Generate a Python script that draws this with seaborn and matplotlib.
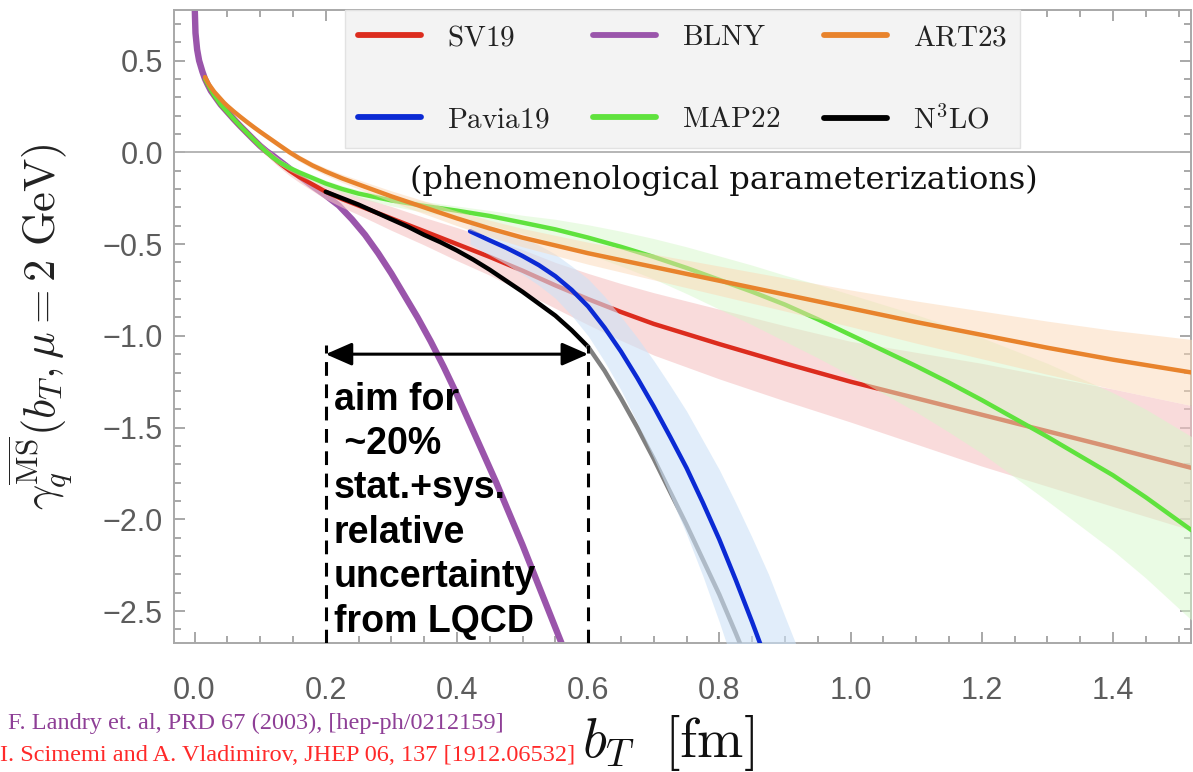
import matplotlib
matplotlib.use("Agg")
import matplotlib.pyplot as plt
from matplotlib.lines import Line2D
from matplotlib.ticker import MultipleLocator, FixedLocator
import seaborn as sns

# ---------------------------------------------------------------
# Collins-Soper kernel gamma_q(b_T, mu = 2 GeV) for several
# phenomenological parameterizations; b_T in fm.
# ---------------------------------------------------------------

# BLNY (no uncertainty band)
blny_b = [0.0004, 0.0015, 0.004, 0.007, 0.012, 0.016, 0.02, 0.025, 0.03, 0.035,
          0.04, 0.05, 0.06, 0.07, 0.08, 0.09, 0.1, 0.11, 0.12, 0.14,
          0.16, 0.18, 0.20, 0.22, 0.24, 0.26, 0.28, 0.30, 0.32, 0.34,
          0.36, 0.38, 0.40, 0.42, 0.44, 0.46, 0.48, 0.50, 0.52, 0.54,
          0.56, 0.58]
blny_g = [0.78, 0.65, 0.56, 0.50, 0.44, 0.40, 0.37, 0.335, 0.31, 0.285,
          0.26, 0.22, 0.18, 0.142, 0.106, 0.07, 0.035, 0.005, -0.02, -0.075,
          -0.13, -0.185, -0.235, -0.29, -0.365, -0.45, -0.55, -0.66, -0.78, -0.90,
          -1.03, -1.17, -1.32, -1.48, -1.64, -1.80, -1.97, -2.14, -2.32, -2.50,
          -2.68, -2.87]

# SV19
sv19_b = [0.016, 0.019, 0.022, 0.026, 0.03, 0.035, 0.04, 0.045, 0.05, 0.06,
          0.07, 0.08, 0.09, 0.1, 0.108, 0.12, 0.13, 0.145, 0.16, 0.18,
          0.2, 0.225, 0.25, 0.3, 0.35, 0.4, 0.45, 0.5, 0.55, 0.6,
          0.65, 0.7, 0.75, 0.8, 0.9, 1.0, 1.1, 1.2, 1.3, 1.4, 1.52]
sv19_g = [0.40, 0.38, 0.36, 0.335, 0.31, 0.285, 0.26, 0.24, 0.22, 0.18,
          0.142, 0.106, 0.07, 0.035, 0.007, -0.03, -0.06, -0.10, -0.135, -0.175,
          -0.215, -0.255, -0.29, -0.36, -0.43, -0.50, -0.57, -0.645, -0.725, -0.80,
          -0.87, -0.935, -0.99, -1.045, -1.15, -1.25, -1.34, -1.43, -1.52, -1.61, -1.72]
sv19_err = [0.01, 0.01, 0.01, 0.01, 0.01, 0.011, 0.011, 0.012, 0.012, 0.013,
            0.014, 0.015, 0.016, 0.018, 0.02, 0.022, 0.024, 0.027, 0.03, 0.035,
            0.04, 0.045, 0.05, 0.065, 0.075, 0.09, 0.10, 0.115, 0.125, 0.14,
            0.155, 0.17, 0.18, 0.19, 0.205, 0.22, 0.25, 0.28, 0.30, 0.32, 0.34]

# MAP22
map22_b = [0.016, 0.019, 0.022, 0.026, 0.03, 0.035, 0.04, 0.045, 0.05, 0.06,
           0.07, 0.08, 0.09, 0.1, 0.108, 0.12, 0.13, 0.145, 0.16, 0.18,
           0.2, 0.225, 0.25, 0.3, 0.35, 0.4, 0.45, 0.5, 0.55, 0.6,
           0.65, 0.7, 0.75, 0.8, 0.85, 0.9, 0.95, 1.0, 1.05, 1.1,
           1.15, 1.2, 1.25, 1.3, 1.35, 1.4, 1.45, 1.52]
map22_g = [0.40, 0.38, 0.36, 0.335, 0.31, 0.285, 0.26, 0.24, 0.22, 0.18,
           0.142, 0.106, 0.07, 0.035, 0.007, -0.03, -0.055, -0.085, -0.11, -0.14,
           -0.17, -0.20, -0.225, -0.262, -0.292, -0.318, -0.347, -0.383, -0.42, -0.465,
           -0.515, -0.57, -0.63, -0.695, -0.76, -0.83, -0.91, -0.995, -1.08, -1.165,
           -1.255, -1.35, -1.45, -1.55, -1.655, -1.76, -1.88, -2.06]
map22_lo = [0.01, 0.01, 0.01, 0.01, 0.01, 0.011, 0.011, 0.012, 0.012, 0.012,
            0.013, 0.013, 0.014, 0.014, 0.015, 0.015, 0.016, 0.017, 0.018, 0.019,
            0.02, 0.022, 0.025, 0.03, 0.035, 0.04, 0.05, 0.06, 0.075, 0.09,
            0.105, 0.12, 0.14, 0.16, 0.18, 0.20, 0.21, 0.22, 0.235, 0.25,
            0.27, 0.29, 0.32, 0.35, 0.38, 0.41, 0.44, 0.49]
map22_hi = [0.01, 0.01, 0.01, 0.01, 0.01, 0.011, 0.011, 0.012, 0.012, 0.012,
            0.013, 0.013, 0.014, 0.014, 0.015, 0.015, 0.015, 0.016, 0.016, 0.017,
            0.018, 0.019, 0.02, 0.022, 0.024, 0.025, 0.03, 0.04, 0.055, 0.07,
            0.085, 0.10, 0.115, 0.13, 0.145, 0.16, 0.19, 0.22, 0.25, 0.28,
            0.31, 0.34, 0.37, 0.40, 0.425, 0.45, 0.48, 0.51]

# ART23
art23_b = [0.016, 0.019, 0.022, 0.026, 0.03, 0.035, 0.04, 0.045, 0.05, 0.06,
           0.07, 0.08, 0.09, 0.1, 0.11, 0.12, 0.13, 0.145, 0.16, 0.18,
           0.2, 0.225, 0.25, 0.3, 0.35, 0.4, 0.45, 0.5, 0.6, 0.7,
           0.8, 0.9, 1.0, 1.1, 1.2, 1.3, 1.4, 1.52]
art23_g = [0.41, 0.39, 0.37, 0.35, 0.33, 0.31, 0.29, 0.27, 0.253, 0.222,
           0.193, 0.165, 0.138, 0.112, 0.087, 0.062, 0.037, 0.0, -0.033, -0.072,
           -0.105, -0.142, -0.175, -0.24, -0.30, -0.36, -0.415, -0.465, -0.55, -0.625,
           -0.70, -0.775, -0.85, -0.925, -0.995, -1.065, -1.13, -1.20]
art23_err = [0.01, 0.01, 0.01, 0.01, 0.01, 0.011, 0.011, 0.012, 0.012, 0.012,
             0.013, 0.013, 0.014, 0.014, 0.015, 0.015, 0.015, 0.016, 0.017, 0.018,
             0.02, 0.022, 0.025, 0.03, 0.035, 0.04, 0.045, 0.05, 0.06, 0.07,
             0.08, 0.09, 0.10, 0.115, 0.13, 0.145, 0.16, 0.18]

# Pavia19
pavia_b = [0.42, 0.45, 0.475, 0.5, 0.525, 0.55, 0.575, 0.6, 0.625, 0.65,
           0.675, 0.7, 0.725, 0.75, 0.775, 0.8, 0.825, 0.85, 0.875, 0.9, 0.93]
pavia_g = [-0.43, -0.48, -0.52, -0.565, -0.615, -0.675, -0.75, -0.84, -0.955, -1.085,
           -1.23, -1.385, -1.55, -1.72, -1.91, -2.11, -2.33, -2.56, -2.80, -3.05, -3.36]
pavia_lo = [0.07, 0.08, 0.09, 0.10, 0.11, 0.12, 0.14, 0.16, 0.185, 0.21,
            0.245, 0.28, 0.32, 0.36, 0.40, 0.45, 0.50, 0.55, 0.60, 0.65, 0.70]
pavia_hi = [0.07, 0.08, 0.09, 0.10, 0.11, 0.12, 0.13, 0.15, 0.17, 0.19,
            0.22, 0.25, 0.28, 0.31, 0.34, 0.38, 0.42, 0.46, 0.50, 0.52, 0.56]

# N3LO perturbative kernel
n3lo_b = [0.2, 0.225, 0.25, 0.275, 0.3, 0.325, 0.35, 0.375, 0.4, 0.425,
          0.45, 0.475, 0.5, 0.525, 0.55, 0.575, 0.6, 0.625, 0.65, 0.675,
          0.7, 0.725, 0.75, 0.775, 0.8, 0.825, 0.84]
n3lo_g = [-0.215, -0.25, -0.285, -0.325, -0.365, -0.405, -0.45, -0.49, -0.535, -0.585,
          -0.64, -0.70, -0.76, -0.825, -0.89, -0.97, -1.06, -1.19, -1.34, -1.50,
          -1.67, -1.85, -2.03, -2.22, -2.41, -2.62, -2.75]
n3lo_cut = 0.6          # black up to here, grey beyond

# target window for the lattice calculation
aim_b = [0.2, 0.6]
aim_arrow_g = -1.10
aim_top_g = -1.05

legend_order = ["SV19", "Pavia19", "BLNY", "MAP22", "ART23", "N3LO"]
legend_text = {"SV19": r"$\mathrm{SV19}$", "Pavia19": r"$\mathrm{Pavia19}$",
               "BLNY": r"$\mathrm{BLNY}$", "MAP22": r"$\mathrm{MAP22}$",
               "ART23": r"$\mathrm{ART23}$", "N3LO": r"$\mathrm{N^3LO}$"}

colors = {"SV19": "#dc2c1e", "BLNY": "#9a55ab", "ART23": "#e8832c",
          "Pavia19": "#0b2ad4", "MAP22": "#5fe23d", "N3LO": "#000000"}
bands = {"SV19": "#f5c4c4", "ART23": "#fcd8b6", "Pavia19": "#cde2f7",
         "MAP22": "#d6f8ca"}

# ---------------------------------------------------------------
sns.set_theme(style="ticks")
plt.rcParams.update({
    "font.family": ["Liberation Sans", "DejaVu Sans"],
    "mathtext.fontset": "cm",
    "axes.edgecolor": "#a8a8a8",
    "axes.linewidth": 1.4,
})

fig = plt.figure(figsize=(11.93, 7.72), dpi=100)
ax = fig.add_axes([0.14585, 0.1671, 0.8525, 0.81995])

ax.axhline(0.0, color="#b0b0b0", lw=1.3, zorder=1)


def curve(b, g, name, lw, z):
    sns.lineplot(x=b, y=g, ax=ax, color=colors[name], lw=lw, zorder=z,
                 sort=False, estimator=None, legend=False)


def band(b, g, lo, hi, name, z, alpha):
    ax.fill_between(b, [v - d for v, d in zip(g, lo)],
                    [v + d for v, d in zip(g, hi)],
                    color=bands[name], alpha=alpha, lw=0, zorder=z)


curve(blny_b, blny_g, "BLNY", 4.6, 2)

band(sv19_b, sv19_g, sv19_err, sv19_err, "SV19", 3, 0.6)
curve(sv19_b, sv19_g, "SV19", 3.2, 4)

n3lo_in = [(b, g) for b, g in zip(n3lo_b, n3lo_g) if b <= n3lo_cut]
n3lo_out = [(b, g) for b, g in zip(n3lo_b, n3lo_g) if b >= n3lo_cut]
sns.lineplot(x=[p[0] for p in n3lo_in], y=[p[1] for p in n3lo_in], ax=ax,
             color=colors["N3LO"], lw=3.2, zorder=5, sort=False, estimator=None)
sns.lineplot(x=[p[0] for p in n3lo_out], y=[p[1] for p in n3lo_out], ax=ax,
             color="#808080", lw=3.2, zorder=5, sort=False, estimator=None)

band(pavia_b, pavia_g, pavia_lo, pavia_hi, "Pavia19", 6, 0.6)
curve(pavia_b, pavia_g, "Pavia19", 3.2, 7)

band(map22_b, map22_g, map22_lo, map22_hi, "MAP22", 8, 0.5)
curve(map22_b, map22_g, "MAP22", 3.2, 9)

band(art23_b, art23_g, art23_err, art23_err, "ART23", 10, 0.5)
curve(art23_b, art23_g, "ART23", 3.2, 11)

# --- axes ---
ax.set_xlim(-0.03125, 1.519)
ax.set_ylim(-2.674, 0.7755)
ax.xaxis.set_major_locator(FixedLocator([0.0, 0.2, 0.4, 0.6, 0.8, 1.0, 1.2, 1.4]))
ax.xaxis.set_minor_locator(MultipleLocator(0.05))
ax.yaxis.set_major_locator(FixedLocator([0.5, 0.0, -0.5, -1.0, -1.5, -2.0, -2.5]))
ax.yaxis.set_minor_locator(MultipleLocator(0.1))
ax.tick_params(which="both", direction="in", top=True, right=True,
               color="#9a9a9a", width=1.2, labelcolor="#5c5c5c", labelsize=22)
ax.tick_params(which="major", length=8)
ax.tick_params(which="minor", length=5)
ax.tick_params(axis="x", which="major", pad=24)
ax.tick_params(axis="y", which="major", pad=8)
fmt = plt.FuncFormatter(lambda v, p: f"{v:.1f}".replace("-", "\u2212"))
ax.xaxis.set_major_formatter(fmt)
ax.yaxis.set_major_formatter(fmt)

ax.set_ylabel(r"$\gamma_q^{\overline{\mathrm{MS}}}(b_T, \mu = 2\ \mathrm{GeV})$",
              fontsize=32, color="#222222")
ax.yaxis.set_label_coords(-0.097, 0.5)
ax.set_xlabel(r"$b_T\ \ [\mathrm{fm}]$", fontsize=40, color="#111111")
ax.xaxis.set_label_coords(0.486, -0.11)

# --- legend ---
handles = [Line2D([], [], color=colors[n], lw=4.2) for n in legend_order]
leg = ax.legend(handles, [legend_text[n] for n in legend_order], ncol=3,
                loc="upper left", bbox_to_anchor=(0.168, 1.0), borderaxespad=0,
                fontsize=21, handlelength=2.15, handletextpad=0.9,
                columnspacing=1.5, labelspacing=1.85, borderpad=0.45,
                frameon=True, fancybox=False, framealpha=1.0,
                facecolor="#f3f3f3", edgecolor="#e2e2e2")
leg.set_zorder(20)
for t in leg.get_texts():
    t.set_color("#222222")

# --- annotations ---
ax.text(0.3285, -0.151, "(phenomenological parameterizations)",
        family="DejaVu Serif", fontsize=23, ha="left", va="center",
        color="#111111", zorder=21)

for xb in aim_b:
    ax.vlines(xb, ax.get_ylim()[0], aim_top_g, colors="black", lw=2.2,
              linestyles=(0, (4.5, 2.8)), zorder=15)
ax.annotate("", xy=(aim_b[0], aim_arrow_g), xytext=(aim_b[1], aim_arrow_g),
            arrowprops=dict(arrowstyle="<|-|>,head_length=0.8,head_width=0.35",
                            lw=2.2, color="black", mutation_scale=20,
                            shrinkA=0, shrinkB=0), zorder=16)
ax.text(0.212, -1.25,
        "aim for\n ~20%\nstat.+sys.\nrelative\nuncertainty\nfrom LQCD",
        family="Liberation Sans", fontweight="bold", fontsize=27,
        ha="left", va="top", linespacing=1.3, color="black", zorder=16)

fig.text(0.007, 0.0635, "F. Landry et. al, PRD 67 (2003), [hep-ph/0212159]",
         family="Liberation Serif", fontsize=17.5, color="#8e3f96",
         ha="left", va="center")
fig.text(0.0, 0.022, "I. Scimemi and A. Vladimirov, JHEP 06, 137 [1912.06532]",
         family="Liberation Serif", fontsize=17.5, color="#ff2a2a",
         ha="left", va="center")

fig.savefig("out.png", dpi=100)
